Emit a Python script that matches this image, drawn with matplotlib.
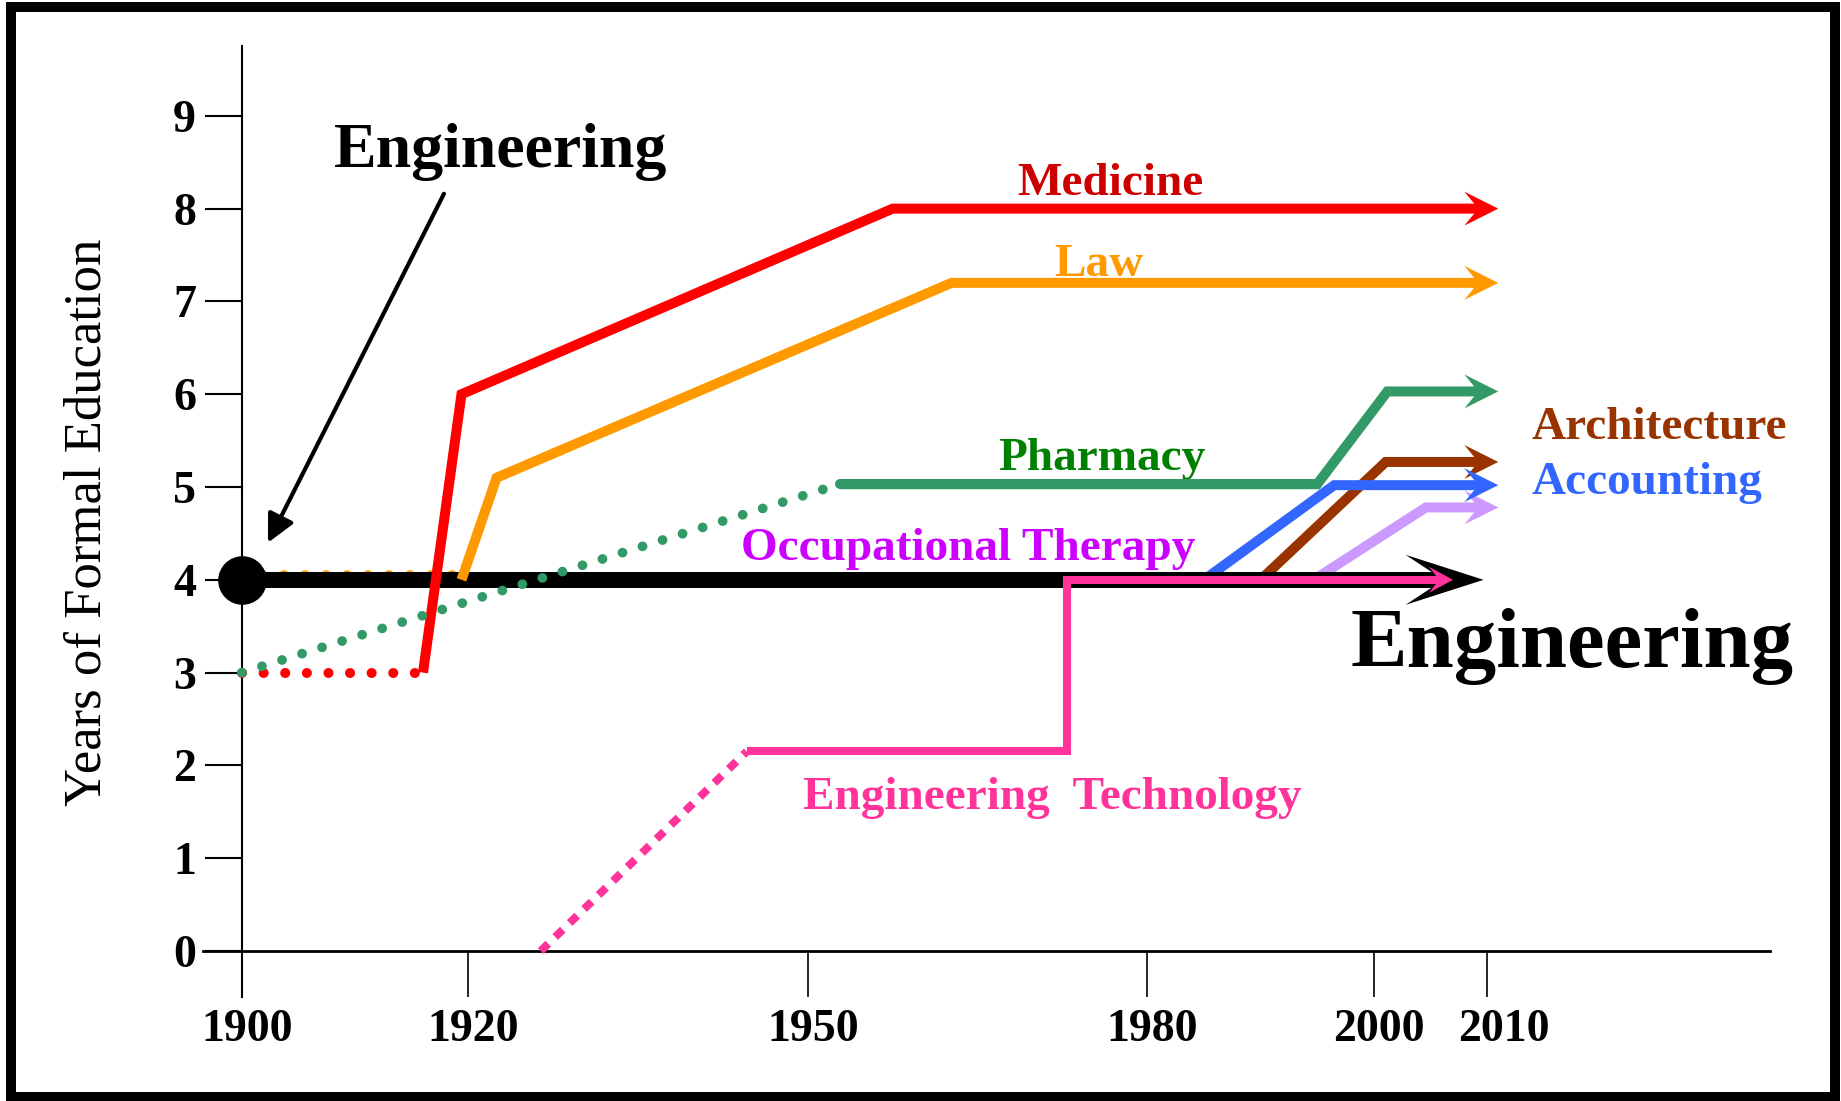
import matplotlib
matplotlib.use('Agg')
import matplotlib.pyplot as plt
import numpy as np
from matplotlib.patches import Rectangle, Polygon
from matplotlib.transforms import ScaledTranslation

plt.rcParams['font.family'] = ['Liberation Serif', 'DejaVu Serif']

# years of formal education by profession
eng_years = [1900, 2009.7]
eng_vals = [4, 4]

med_dot_years = [1900, 1916]
med_dot_vals = [3, 3]
med_years = [1916, 1919.4, 1957.5, 2011]
med_vals = [3, 6, 8, 8]

law_dot_years = [1900, 1919.4]
law_dot_vals = [4.05, 4.05]
law_years = [1919.4, 1922.5, 1962.7, 2011]
law_vals = [4, 5.1, 7.2, 7.2]

pha_dot_years = [1900, 1952.8]
pha_dot_vals = [3, 5.03]
pha_years = [1952.8, 1995, 2001.2, 2011]
pha_vals = [5.03, 5.03, 6.03, 6.03]

arc_years = [1990, 2001.05, 2011]
arc_vals = [4, 5.27, 5.27]

acc_years = [1985, 1996.5, 2011]
acc_vals = [4, 5.02, 5.02]

ot_years = [1994.7, 2004.6, 2011]
ot_vals = [4, 4.78, 4.78]

et_dot_years = [1926.4, 1944.6]
et_dot_vals = [0, 2.15]
et_years = [1944.6, 1972.9, 1972.9, 2007]
et_vals = [2.15, 2.15, 4, 4]

x_ticks = [1900, 1920, 1950, 1980, 2000, 2010]
y_ticks = list(range(10))


fig = plt.figure(figsize=(18.41, 11.01), dpi=100)
ax = fig.add_axes([0.1105, 0.0941, 0.8509, 0.8639])
ax.set_xlim(1896.6, 2035)
ax.set_ylim(-0.5, 9.75)


def draw_line(x, y, color, lw, zorder=3, head=None, **kw):
    """polyline ending in a filled notched arrow head (sizes in pixels)"""
    if head is not None:
        length, half_w, notch, back = head
        tip = ax.transData.transform((x[-1], y[-1]))
        end = ax.transData.inverted().transform((tip[0] - back, tip[1]))
        xs = list(x[:-1]) + [end[0]]
        ys = list(y[:-1]) + [end[1]]
        verts = np.array([[0, 0], [-length, half_w], [-length + notch, 0],
                          [-length, -half_w]]) / fig.dpi
        trans = fig.dpi_scale_trans + ScaledTranslation(x[-1], y[-1],
                                                        ax.transData)
        ax.add_patch(Polygon(verts, closed=True, transform=trans, fc=color,
                             ec='none', zorder=zorder))
    else:
        xs, ys = x, y
    ax.plot(xs, ys, color=color, lw=lw, solid_capstyle='butt',
            solid_joinstyle='miter', zorder=zorder, **kw)


dots = dict(linestyle=(0, (0.01, 2.15)), dash_capstyle='round')
colored_head = (34, 17, 14, 14)

# lines that start on the engineering line sit behind it
draw_line(acc_years, acc_vals, '#3366ff', 7.2, zorder=1.5, head=colored_head)
draw_line(arc_years, arc_vals, '#993300', 7.2, zorder=1.4, head=colored_head)
draw_line(ot_years, ot_vals, '#cc99ff', 7.2, zorder=1.3, head=colored_head)
ax.plot(law_dot_years, law_dot_vals, color='#ff9900', lw=7, zorder=1.2, **dots)

draw_line(eng_years, eng_vals, 'black', 11.5, zorder=2, head=(78, 25, 38, 30))
ax.plot(eng_years[0], eng_vals[0], 'o', ms=34, color='black', zorder=8,
        clip_on=False)

ax.plot(med_dot_years, med_dot_vals, color='#ff0000', lw=7.2, zorder=3, **dots)
draw_line(med_years, med_vals, '#ff0000', 7.2, zorder=3.2, head=colored_head)
draw_line(law_years, law_vals, '#ff9900', 7.2, zorder=3.1, head=colored_head)

ax.plot(pha_dot_years, pha_dot_vals, color='#339966', lw=7, zorder=3.5, **dots)
ax.plot(pha_years[:2], pha_vals[:2], color='#339966', lw=7.2,
        solid_capstyle='round', zorder=3.4)
draw_line(pha_years, pha_vals, '#339966', 7.2, zorder=3.4, head=colored_head)

ax.plot(et_dot_years, et_dot_vals, color='#ff3399', lw=5.8, zorder=4,
        linestyle=(0, (1.3, 1.2)), dash_capstyle='butt')
draw_line(et_years, et_vals, '#ff3399', 5.8, zorder=4, head=(24, 13, 10, 10))

# labels
label_kw = dict(fontsize=34, fontweight='bold', ha='left', va='baseline')
ax.text(1968.5, 8.15, 'Medicine', color='#cc0000', **label_kw)
ax.text(1971.8, 7.27, 'Law', color='#ff9900', **label_kw)
ax.text(1966.8, 5.18, 'Pharmacy', color='#008000', **label_kw)
ax.text(1944.1, 4.21, 'Occupational Therapy', color='#cc00ff', **label_kw)
ax.text(2013.9, 5.52, 'Architecture', color='#993300', **label_kw)
ax.text(2013.9, 4.93, 'Accounting', color='#3366ff', **label_kw)
ax.text(1949.6, 1.53, 'Engineering  Technology', color='#ff3399', **label_kw)
ax.text(1997.9, 3.06, 'Engineering', color='black', fontsize=61,
        fontweight='bold', ha='left', va='baseline')
ax.text(1908.1, 8.45, 'Engineering', color='black', fontsize=46,
        fontweight='bold', ha='left', va='baseline')
ax.annotate('', xy=(1902.3, 4.40), xytext=(1917.85, 8.16),
            arrowprops=dict(arrowstyle='-|>,head_length=1.7,head_width=0.85',
                            color='black', lw=3, shrinkA=0, shrinkB=0,
                            mutation_scale=10))

# axes
for side in ['top', 'right']:
    ax.spines[side].set_visible(False)
ax.spines['left'].set_position(('data', 1900))
ax.spines['bottom'].set_position(('data', 0))
ax.spines['left'].set_linewidth(1.5)
ax.spines['bottom'].set_linewidth(2)

ax.set_xticks(x_ticks)
ax.set_xticklabels([str(t) for t in x_ticks])
ax.set_yticks(y_ticks)
ax.set_yticklabels([str(t) for t in y_ticks])
ax.tick_params(axis='x', direction='out', length=33, width=1.2, pad=9,
               labelsize=33)
ax.tick_params(axis='y', direction='out', length=27, width=1.5, pad=6,
               labelsize=33)
for lab in ax.get_xticklabels() + ax.get_yticklabels():
    lab.set_fontweight('bold')
for lab in ax.get_xticklabels():
    dx = 17 if lab.get_text() == '2010' else 5
    lab.set_transform(lab.get_transform()
                      + ScaledTranslation(dx / 100, 0, fig.dpi_scale_trans))

fig.text(88 / 1841, 1 - 522 / 1101, 'Years of Formal Education',
         rotation=90, ha='center', va='center', fontsize=38)

# black frame round the whole picture
fig.add_artist(Rectangle((11 / 1841, 4 / 1101), 1823.5 / 1841, 1090 / 1101,
                         transform=fig.transFigure, fill=False, lw=7.2,
                         ec='black', joinstyle='miter'))

fig.savefig('out.png', dpi=100)
